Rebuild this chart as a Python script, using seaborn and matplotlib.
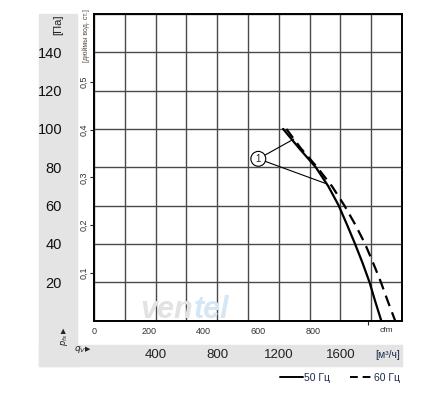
import numpy as np
import pandas as pd
import matplotlib
matplotlib.use("Agg")
import matplotlib.pyplot as plt
import matplotlib.transforms as mtransforms
from matplotlib.patches import Rectangle
from matplotlib.lines import Line2D
import seaborn as sns

# curve data: flow [m3/h] vs static pressure [Pa]
q_50 = [1228, 1331, 1440, 1522, 1589, 1643, 1695, 1744, 1789, 1826, 1865]
p_50 = [100, 90, 80, 70, 60, 50, 40, 30, 20, 10, 0]
q_60 = [1249, 1342, 1449, 1546, 1626, 1697, 1760, 1813, 1863, 1908, 1955]
p_60 = [100, 90, 80, 70, 60, 50, 40, 30, 20, 10, 0]

pa_ticks = [20, 40, 60, 80, 100, 120, 140]
inwg_ticks = [0.1, 0.2, 0.3, 0.4, 0.5]
cfm_ticks = [0, 200, 400, 600, 800]
m3h_labels = [400, 800, 1200, 1600]

PA_PER_INWG = 249.0
M3H_PER_CFM = 1.78

df = pd.concat([
    pd.DataFrame({"q": q_50, "p": p_50, "freq": "50 Гц"}),
    pd.DataFrame({"q": q_60, "p": p_60, "freq": "60 Гц"}),
])

sns.set_style("white")
plt.rcParams["font.family"] = ["Liberation Sans Narrow", "Liberation Sans", "DejaVu Sans"]

W, H = 433, 397
fig = plt.figure(figsize=(W / 100, H / 100), dpi=100)

def fx(px):
    return px / W

def fy(py):
    return 1 - py / H

# grey bands (behind everything)
fig.patches.append(Rectangle((fx(39), fy(366)), fx(38), (366 - 14) / H,
                             transform=fig.transFigure, color="#e4e4e4", zorder=-5))
fig.patches.append(Rectangle((fx(39), fy(366)), fx(363), 21 / H,
                             transform=fig.transFigure, color="#e4e4e4", zorder=-5))

ax = fig.add_axes([fx(94), fy(320.5), fx(308), (320.5 - 14) / H])
ax.set_facecolor("white")

# watermark
fig.text(fx(140), fy(318), "ven", fontsize=22, fontweight="bold", style="italic",
         color="#e2e2e2", zorder=1)
fig.text(fx(194), fy(318), "tel", fontsize=22, fontweight="bold", style="italic",
         color="#d5e6f4", zorder=1)

sns.lineplot(data=df, x="q", y="p", style="freq", sort=False, estimator=None,
             color="black", linewidth=1.6, dashes={"50 Гц": "", "60 Гц": (5, 3)},
             legend=False, ax=ax, zorder=5)

ax.set_xlim(0, 2000)
ax.set_ylim(0, 160)
ax.set_xticks(np.arange(0, 2001, 200))
ax.tick_params(axis="x", length=0, labelbottom=False)
ax.set_yticks(pa_ticks)
ax.set_yticks([0, 160], minor=True)
ax.grid(True, which="major", color="#4a4a4a", linewidth=1.0)
ax.grid(True, which="minor", axis="y", color="#4a4a4a", linewidth=1.0)
ax.set_yticklabels([str(v) for v in pa_ticks])
ax.tick_params(axis="y", which="both", length=0, pad=23, labelsize=10.5,
               labelcolor="#111111")
for lab in ax.get_yticklabels():
    lab.set_horizontalalignment("right")
ax.set_xlabel("")
ax.set_ylabel("")
for s in ax.spines.values():
    s.set_color("black")
    s.set_linewidth(1.4)

# secondary axis in inch water gauge
sec_y = ax.secondary_yaxis("left", functions=(lambda p: p / PA_PER_INWG,
                                              lambda i: i * PA_PER_INWG))
sec_y.set_yticks(inwg_ticks)
sec_y.set_yticklabels([f"{v:.1f}".replace(".", ",") for v in inwg_ticks],
                      rotation=90, va="center")
sec_y.tick_params(length=3, width=0.8, pad=1, labelsize=6.5, labelcolor="#333333")
sec_y.spines["left"].set_visible(False)

# secondary axis in cfm
sec_x = ax.secondary_xaxis("bottom", functions=(lambda q: q / M3H_PER_CFM,
                                                lambda c: c * M3H_PER_CFM))
sec_x.set_xticks(cfm_ticks)
sec_x.set_xticklabels([str(v) for v in cfm_ticks])
sec_x.set_xticks([0, 1000], minor=True)
sec_x.tick_params(which="major", length=0, pad=5, labelsize=6.5, labelcolor="#333333")
sec_x.tick_params(which="minor", length=3, width=0.8)
sec_x.spines["bottom"].set_visible(False)
fig.text(fx(386), fy(331), "cfm", fontsize=6, color="#333333", ha="center", va="center")

# m3/h labels in the band
trans = mtransforms.blended_transform_factory(ax.transData, fig.transFigure)
for v in m3h_labels:
    ax.text(v, fy(355), str(v), transform=trans, ha="center", va="center",
            fontsize=9.5, color="#222222", clip_on=False)
fig.text(fx(388), fy(355), "[м³/ч]", fontsize=7.5, color="#1c2b4a",
         ha="center", va="center")

# axis captions
fig.text(fx(58), fy(25), "[Па]", rotation=90, fontsize=8, color="#222222",
         ha="center", va="center")
fig.text(fx(86), fy(36), "[дюймы вод. ст.]", rotation=90, fontsize=5,
         color="#5a4a3a", ha="center", va="center")
fig.text(fx(64.5), fy(340), r"$p_{fs}$", rotation=90, fontsize=6,
         color="#222222", ha="center", va="center")
fig.text(fx(64.5), fy(330), "▶", rotation=90, fontsize=5, family="DejaVu Sans",
         color="#222222", ha="center", va="center")
fig.text(fx(80), fy(349.5), r"$q_V$", fontsize=6.5, color="#222222",
         ha="center", va="center")
fig.text(fx(88), fy(349.5), "▶", fontsize=5, family="DejaVu Sans",
         color="#222222", ha="center", va="center")

# marker "1" with leader lines
ax.plot([1067, 1297], [84.4, 94.7], color="black", linewidth=0.8, zorder=4)
ax.plot([1067, 1505], [84.4, 71.5], color="black", linewidth=0.8, zorder=4)
ax.text(1067, 84.4, "1", fontsize=7, ha="center", va="center", zorder=6,
        bbox=dict(boxstyle="circle,pad=0.25", facecolor="white",
                  edgecolor="black", linewidth=0.8))

# legend
handles = [Line2D([], [], color="black", linewidth=1.4),
           Line2D([], [], color="black", linewidth=1.4, dashes=(4, 2.5))]
fig.legend(handles, ["50 Гц", "60 Гц"], loc="center", ncol=2,
           bbox_to_anchor=(fx(340), fy(378)), frameon=False, fontsize=7.5,
           handlelength=2.2, handletextpad=0.1, columnspacing=2.0,
           labelcolor="#1c2b4a")

fig.savefig("out.png", dpi=100)
